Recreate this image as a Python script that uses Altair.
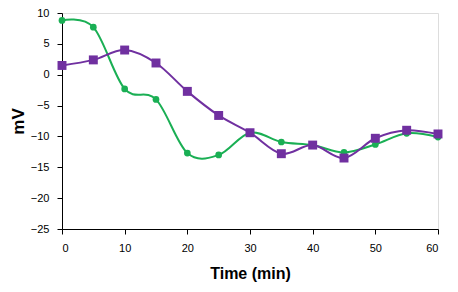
import altair as alt
import pandas as pd

times = [0, 5, 10, 15, 20, 25, 30, 35, 40, 45, 50, 55, 60]
green = [8.8, 7.7, -2.3, -4.0, -12.7, -13.0, -9.4, -10.9, -11.4, -12.6, -11.3, -9.5, -10.1]
purple = [1.5, 2.4, 4.0, 1.9, -2.7, -6.6, -9.4, -12.8, -11.4, -13.5, -10.3, -9.0, -9.6]

df = pd.DataFrame({
    "t": times * 2,
    "v": green + purple,
    "s": ["A"] * len(times) + ["B"] * len(times),
})

font = "Liberation Sans"
xs = alt.Scale(domain=[0, 60], nice=False, zero=False)
ys = alt.Scale(domain=[-25, 10], nice=False, zero=False)
cs = alt.Scale(domain=["A", "B"], range=["#1AAF54", "#7030A0"])

x = alt.X("t:Q", scale=xs, axis=alt.Axis(
    values=list(range(0, 61, 10)), title="Time (min)", grid=False,
    domainColor="black", tickColor="black", tickSize=5, labelPadding=8,
    labelFont=font, labelFontSize=11, labelColor="black",
    titleFont=font, titleFontSize=16, titleFontWeight="bold", titleColor="black",
    titleBaseline="alphabetic", titleY=49, titleX=188))
y = alt.Y("v:Q", scale=ys, axis=alt.Axis(
    values=list(range(-25, 11, 5)), title="mV", grid=False,
    domainColor="black", tickColor="black", tickSize=5, labelPadding=8,
    labelFont=font, labelFontSize=11, labelColor="black",
    titleFont=font, titleFontSize=17, titleFontWeight="bold", titleColor="black",
    titleBaseline="alphabetic", titleX=-39, titleY=108, titleAngle=-90))

line = alt.Chart(df).mark_line(interpolate="cardinal", strokeWidth=2).encode(
    x=x, y=y, color=alt.Color("s:N", scale=cs, legend=None))
pts = alt.Chart(df).mark_point(filled=True, opacity=1).encode(
    x=x, y=y,
    color=alt.Color("s:N", scale=cs, legend=None),
    shape=alt.Shape("s:N", scale=alt.Scale(domain=["A", "B"], range=["circle", "square"]), legend=None),
    size=alt.Size("s:N", scale=alt.Scale(domain=["A", "B"], range=[45, 80]), legend=None))

chart = alt.layer(line, pts).properties(
    width=376, height=216,
    autosize=alt.AutoSizeParams(type="none"),
    padding={"left": 54, "top": 5, "right": 12, "bottom": 55},
).configure_view(stroke=None).configure(background="white")

chart.save("out.html", embed_options={"renderer": "svg", "actions": False})
